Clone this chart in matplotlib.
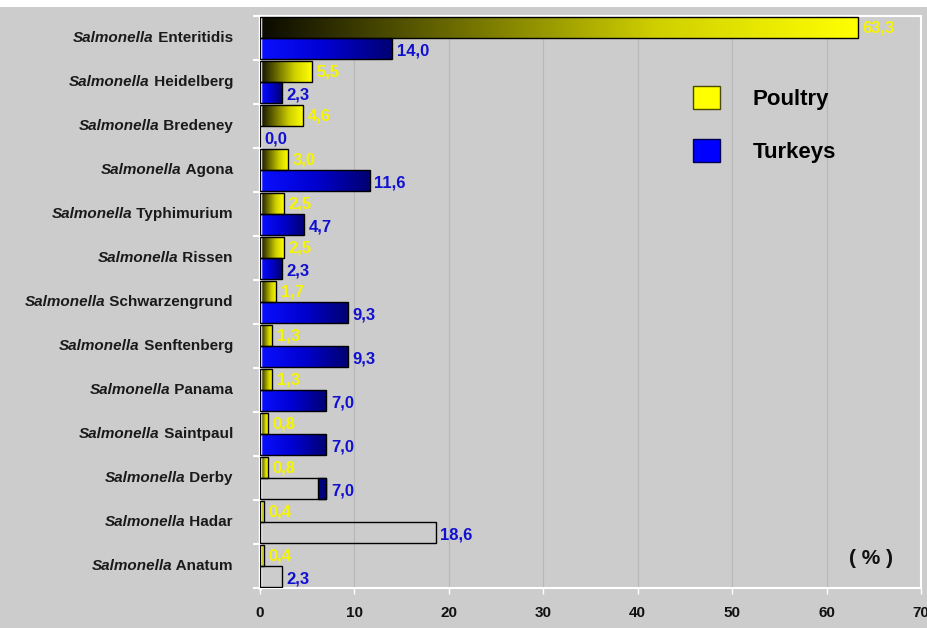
import numpy as np
import matplotlib
matplotlib.use("Agg")
import matplotlib.pyplot as plt
from matplotlib.colors import LinearSegmentedColormap
from matplotlib.patches import Rectangle, Patch

# data (%)
serovars = ['Enteritidis', 'Heidelberg', 'Bredeney', 'Agona', 'Typhimurium', 'Rissen',
            'Schwarzengrund', 'Senftenberg', 'Panama', 'Saintpaul', 'Derby', 'Hadar', 'Anatum']
poultry = [63.3, 5.5, 4.6, 3.0, 2.5, 2.5, 1.7, 1.3, 1.3, 0.8, 0.8, 0.4, 0.4]
turkeys = [14.0, 2.3, 0.0, 11.6, 4.7, 2.3, 9.3, 9.3, 7.0, 7.0, 7.0, 18.6, 2.3]
xticks = [0, 10, 20, 30, 40, 50, 60, 70]

# how the turkey bars are painted in the original (last ones lost their fill)
turkey_fill = ['grad'] * 10 + ['tail', 'none', 'none']

plt.rcParams['font.family'] = ['Liberation Sans', 'DejaVu Sans']

bg = '#cccccc'
fig = plt.figure(figsize=(9.28, 6.28), dpi=100, facecolor=bg)
fig.patches.append(Rectangle((0, 1 - 7 / 628), 1, 7 / 628, transform=fig.transFigure,
                             facecolor='white', edgecolor='none', zorder=0))
ax = fig.add_axes([260 / 928, 1 - 588 / 628, 661 / 928, 572 / 628])
ax.set_facecolor(bg)

yellow_cm = LinearSegmentedColormap.from_list('yel', ['#0a0a00', '#6e6e00', '#d0d000', '#ffff00'])
blue_cm = LinearSegmentedColormap.from_list('blu', ['#0a10ff', '#0000d0', '#000070'])
grad = np.linspace(0, 1, 256).reshape(1, -1)

h = 0.47
y = np.arange(len(serovars))


def grad_bar(x0, x1, y0, y1, cmap):
    rect = Rectangle((x0, y0), x1 - x0, y1 - y0, facecolor='none', edgecolor='black',
                     linewidth=1.0, zorder=3)
    ax.add_patch(rect)
    if x1 > x0:
        im = ax.imshow(grad, cmap=cmap, extent=(x0, x1, y1, y0), aspect='auto',
                       interpolation='bicubic', zorder=2)
        im.set_clip_path(rect)


for i in range(len(serovars)):
    # poultry on top half, turkeys on bottom half
    grad_bar(0, poultry[i], y[i] - h, y[i], yellow_cm)
    ax.text(poultry[i] + 0.5, y[i] - h / 2, f"{poultry[i]:.1f}".replace('.', ','),
            color='#f5f500', fontsize=12, fontweight='bold', va='center', ha='left', zorder=4)

    v = turkeys[i]
    if turkey_fill[i] == 'grad':
        grad_bar(0, v, y[i], y[i] + h, blue_cm)
    else:
        ax.add_patch(Rectangle((0, y[i]), v, h, facecolor='none', edgecolor='black',
                               linewidth=1.0, zorder=3))
        if turkey_fill[i] == 'tail':
            ax.add_patch(Rectangle((v * 0.87, y[i]), v * 0.13, h, facecolor='#00007a',
                                   edgecolor='black', linewidth=1.0, zorder=3))
    ax.text(v + 0.5, y[i] + h / 2 + 0.05, f"{v:.1f}".replace('.', ','),
            color='#1010d0', fontsize=12, fontweight='bold', va='center', ha='left', zorder=4)

ax.set_xlim(0, 70)
ax.set_ylim(len(serovars) - 0.5, -0.5)
ax.set_xticks(xticks)
ax.set_xticklabels([str(t) for t in xticks], fontsize=11, fontweight='bold', color='#111111')
ax.tick_params(axis='x', colors='white', length=4, width=1, pad=9, labelcolor='#111111')
ax.set_yticks([])
ax.set_yticks(np.arange(len(serovars) + 1) - 0.5, minor=True)
ax.tick_params(axis='y', which='minor', colors='white', length=5, width=1.5)
ax.set_axisbelow(True)
for t in xticks[1:-1]:
    ax.axvline(t, color='#b8b8b8', linewidth=0.8, zorder=1)
for s in ax.spines.values():
    s.set_color('white')
    s.set_linewidth(1.5)
ax.spines['left'].set_linewidth(2.5)

# y labels: italic genus + roman serovar, right aligned
fig.canvas.draw()
renderer = fig.canvas.get_renderer()
for i, name in enumerate(serovars):
    t = ax.annotate(' ' + name, xy=(0, y[i]), xycoords=('axes fraction', 'data'),
                    xytext=(-27, 0), textcoords='offset pixels', ha='right', va='center',
                    fontsize=11, fontweight='bold', color='#1a1a1a')
    bb = t.get_window_extent(renderer)
    ax.annotate('Salmonella', xy=(0, y[i]), xycoords=('axes fraction', 'data'),
                xytext=(-27 - bb.width, 0), textcoords='offset pixels', ha='right',
                va='center', fontsize=11, fontweight='bold', fontstyle='italic',
                color='#1a1a1a')

handles = [Patch(facecolor='#ffff00', edgecolor='#4a4a00', linewidth=1),
           Patch(facecolor='#0000ff', edgecolor='#000050', linewidth=1)]
fig.legend(handles, ['Poultry', 'Turkeys'], loc='upper left',
           bbox_to_anchor=(693 / 928, 1 - 86 / 628), frameon=False,
           prop={'size': 16, 'weight': 'bold'}, handlelength=1.2, handleheight=1.2,
           handletextpad=1.5, labelspacing=1.3, borderpad=0, borderaxespad=0)

ax.text(0.925, 0.052, '( % )', transform=ax.transAxes, ha='center', va='center',
        fontsize=15, fontweight='bold', color='#111111')

fig.savefig('out.png', dpi=100, facecolor=bg)
